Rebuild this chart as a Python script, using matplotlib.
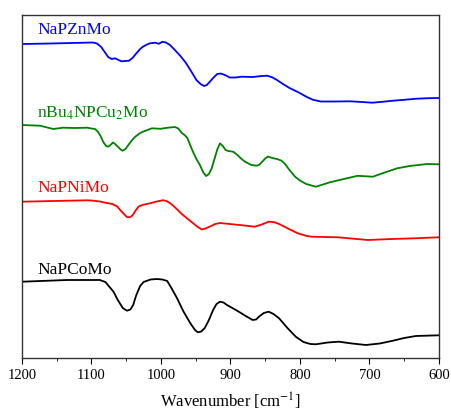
import numpy as np
import matplotlib
matplotlib.use("Agg")
import matplotlib.pyplot as plt
from matplotlib.ticker import MultipleLocator

plt.rcParams['font.family'] = ['Liberation Serif', 'DejaVu Serif']
plt.rcParams['mathtext.fontset'] = 'stix'

# FT-IR spectra, transmittance (a.u., offset for clarity)
wn_zn = [1200, 1160, 1098, 1092, 1086, 1081, 1076, 1071, 1066, 1061, 1057, 1052, 1046,
         1041, 1035, 1030, 1026, 1020, 1016, 1008, 1003, 998, 993, 987, 980, 972, 964,
         955, 949, 943, 938, 934, 930, 925, 919, 914, 908, 901, 893, 884, 868, 855, 847,
         840, 833, 826, 815, 803, 790, 781, 770, 750, 728, 710, 696, 680, 666, 650, 632,
         615, 600]
t_zn = [314, 314.5, 315.5, 314.5, 311, 306, 301, 299, 299.7, 298, 296.7, 297, 297.3,
        300, 305, 309, 311.3, 313.5, 314.7, 315.3, 314.2, 316.3, 315.5, 313, 308, 302, 295,
        285, 278, 274, 272, 273, 276, 280, 284, 284.5, 283, 280.5, 280.5, 281.3, 281, 282,
        282.3, 280.7, 278, 274.7, 270, 266, 261, 258.2, 256.5, 256.5, 256.7, 256, 255.3,
        256.3, 257.3, 258.2, 259.3, 259.8, 260]

wn_cu = [1200, 1174, 1155, 1141, 1124, 1106, 1100, 1095, 1091, 1087, 1083, 1079, 1076,
         1072, 1069, 1066, 1062, 1058, 1055, 1051, 1047, 1042, 1037, 1031, 1026, 1013,
         1001, 990, 980, 975, 970, 966, 962, 958, 954, 949, 944, 939, 935, 931, 927, 923,
         919, 915, 911, 907, 903, 896, 890, 884, 879, 870, 862, 858, 855, 850, 846, 840,
         833, 827, 822, 815, 807, 800, 791, 777, 767, 757, 738, 717, 695, 678, 660, 642,
         617, 600]
t_cu = [233, 232.3, 229, 230.3, 230, 230.3, 229.5, 229, 226.5, 222, 216, 212, 211.3,
        213.5, 215.5, 214, 211.3, 208.5, 207.3, 209, 213, 217.5, 221.3, 224.5, 226.3, 229.7,
        229.2, 230.3, 231, 229.5, 225, 223, 220, 213, 206.3, 199, 193, 185.5, 182, 184,
        189.7, 199, 208.5, 214.7, 212, 208, 207, 206.3, 203, 199, 196.3, 193, 192.3, 193.5,
        195.7, 199.5, 201.5, 200, 199, 197.5, 194.5, 188, 181.3, 177.5, 174, 171.3, 173.5,
        175.7, 178.8, 182.2, 181.3, 185.5, 189.7, 192, 194, 193.7]

wn_ni = [1200, 1155, 1106, 1100, 1088, 1078, 1070, 1063, 1058, 1054, 1049, 1045, 1041,
         1037, 1032, 1027, 1016, 1006, 997, 992, 985, 978, 970, 963, 955, 947, 941, 936,
         930, 922, 915, 901, 880, 865, 855, 845, 838, 830, 820, 810, 803, 790, 783, 745,
         702, 668, 635, 600]
t_ni = [156.3, 157, 157.7, 157.5, 156.5, 155, 154, 151.5, 147.5, 144.5, 141, 140.7,
        142.5, 147, 151.5, 153, 154.7, 156.5, 157.8, 157, 154, 149.5, 144, 140, 135.5,
        131, 128.5, 129.5, 131.3, 134, 135, 134, 132.5, 131.3, 133.5, 136.3, 136, 134,
        130.5, 127, 124.7, 122, 121.3, 120.7, 118, 119, 119.7, 120.7]

wn_co = [1200, 1135, 1088, 1080, 1068, 1063, 1055, 1049, 1044, 1040, 1036, 1030, 1025,
         1015, 1006, 998, 991, 985, 977, 968, 958, 951, 947, 942, 937, 931, 925, 920, 915,
         910, 905, 896, 888, 878, 868, 863, 859, 852, 845, 838, 830, 818, 806, 795, 785,
         777, 760, 744, 725, 705, 685, 666, 650, 633, 600]
t_co = [76.3, 78, 78, 76, 66, 59, 50, 47.3, 48.5, 53, 62, 72, 76, 78.5, 79, 78.5, 77, 70,
        60, 47, 35, 28, 25.7, 26.5, 30, 38, 48, 54, 56.3, 55.5, 53, 49.5, 46.3, 42, 38,
        38.5, 41.3, 45, 46.3, 44, 39.7, 30, 21.3, 16, 14, 13.7, 15.5, 16.3, 14.5, 13, 14.5,
        17.3, 20, 22, 22.7]

names = ['NaPZnMo', r'nBu$_4$NPCu$_2$Mo', 'NaPNiMo', 'NaPCoMo']
colors = ['#0000ff', '#008000', '#ff0000', '#000000']
label_y = [328, 245, 170, 88]

fig = plt.figure(figsize=(4.52, 4.17), dpi=100)
ax = fig.add_axes([0.0487, 0.1415, 0.9223, 0.8225])

series = [(wn_zn, t_zn), (wn_cu, t_cu), (wn_ni, t_ni), (wn_co, t_co)]
for (x, y), c, name, ly in zip(series, colors, names, label_y):
    ax.plot(x, y, color=c, lw=1.3, solid_joinstyle='round')
    ax.text(1178, ly, name, color=c, fontsize=12.5, va='center', ha='left')

ax.set_xlim(1200, 600)
ax.set_ylim(0, 343)
ax.set_yticks([])
ax.xaxis.set_major_locator(MultipleLocator(100))
ax.xaxis.set_minor_locator(MultipleLocator(50))
ax.tick_params(axis='x', which='major', direction='out', length=4, labelsize=10.5, pad=4)
ax.tick_params(axis='x', which='minor', direction='out', length=2.5)
ax.set_xlabel(r'Wavenumber [cm$^{-1}$]', fontsize=12, labelpad=6)
for s in ax.spines.values():
    s.set_color('#333333')
    s.set_linewidth(1.0)

fig.savefig('out.png', dpi=100)
